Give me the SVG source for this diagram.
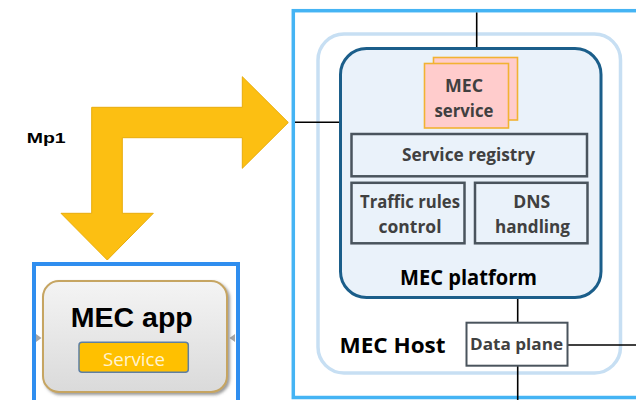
<svg xmlns="http://www.w3.org/2000/svg" width="636" height="400" viewBox="0 0 636 400">
  <defs>
    <linearGradient id="appFill" x1="0" y1="0" x2="0" y2="1">
      <stop offset="0" stop-color="#F4F4F4"/>
      <stop offset="1" stop-color="#DADADA"/>
    </linearGradient>
    <filter id="softShadow" x="-10%" y="-10%" width="125%" height="130%">
      <feDropShadow dx="2" dy="2" stdDeviation="1.5" flood-color="#555" flood-opacity="0.6"/>
    </filter>
  </defs>
  <style>
    .cal { font-family: "Open Sans", "Noto Sans", "DejaVu Sans", sans-serif; font-weight: bold; fill: #404040; text-anchor: middle; }
    .box { fill: none; stroke: #4A545D; stroke-width: 2.5; }
    .wire { stroke: #000; stroke-width: 1.6; fill: none; }
    .svc { fill: #FFCCCC; stroke: #F2B232; stroke-width: 1.6; }
  </style>

  <!-- MEC host frame -->
  <g id="mec-host">
    <rect x="293.3" y="10.7" width="380" height="386.8" fill="#FFFFFF" stroke="#45B4F4" stroke-width="3.5"/>
    <rect x="318" y="34" width="302.5" height="339" rx="26" fill="#FFFFFF" stroke="#C7DFF3" stroke-width="3.5"/>
    <text class="cal" x="339.5" y="352.5" style="text-anchor:start;fill:#000" font-size="22" textLength="106" lengthAdjust="spacingAndGlyphs">MEC Host</text>
  </g>

  <!-- connectors -->
  <g id="connectors">
    <line class="wire" x1="476.7" y1="12.5" x2="476.7" y2="47"/>
    <line class="wire" x1="295" y1="122.3" x2="339" y2="122.3"/>
    <line class="wire" x1="517.7" y1="298.5" x2="517.7" y2="322"/>
    <line class="wire" x1="567.5" y1="345" x2="636" y2="345"/>
    <line class="wire" x1="517.7" y1="366" x2="517.7" y2="400" stroke-width="2.5"/>
    <line x1="135" y1="392" x2="135" y2="400" stroke="#6E6E6E" stroke-width="1.6"/>
  </g>

  <!-- MEC platform -->
  <g id="mec-platform">
    <rect x="340.5" y="48.5" width="260.5" height="249" rx="26" fill="#EAF2FA" stroke="#1B5E8A" stroke-width="3"/>
    <text class="cal" x="468.5" y="285" font-size="22" style="fill:#000" textLength="137" lengthAdjust="spacingAndGlyphs">MEC platform</text>
  </g>

  <g id="mec-service">
    <rect class="svc" x="433.5" y="57.5" width="84" height="62.5"/>
    <rect class="svc" x="424.5" y="63.5" width="84" height="64.5"/>
    <text class="cal" x="464" y="92" font-size="18" textLength="38" lengthAdjust="spacingAndGlyphs">MEC</text>
    <text class="cal" x="464" y="117" font-size="18" textLength="59" lengthAdjust="spacingAndGlyphs">service</text>
  </g>

  <g id="service-registry">
    <rect class="box" x="351.5" y="134" width="235.5" height="42.3"/>
    <text class="cal" x="468.5" y="161" font-size="17" textLength="133" lengthAdjust="spacingAndGlyphs">Service registry</text>
  </g>

  <g id="traffic-rules">
    <rect class="box" x="351.5" y="182.8" width="113" height="60.5"/>
    <text class="cal" x="410" y="208.3" font-size="17" textLength="100" lengthAdjust="spacingAndGlyphs">Traffic rules</text>
    <text class="cal" x="410" y="232.7" font-size="17" textLength="63" lengthAdjust="spacingAndGlyphs">control</text>
  </g>

  <g id="dns-handling">
    <rect class="box" x="475" y="182.8" width="112.5" height="60.5"/>
    <text class="cal" x="531.7" y="208.3" font-size="17" textLength="37" lengthAdjust="spacingAndGlyphs">DNS</text>
    <text class="cal" x="532.5" y="232.7" font-size="17" textLength="75" lengthAdjust="spacingAndGlyphs">handling</text>
  </g>

  <g id="data-plane">
    <rect x="466.5" y="322.7" width="101" height="43" fill="#FFFFFF" stroke="#4A545D" stroke-width="2"/>
    <text class="cal" x="516.5" y="350" font-size="15.5" textLength="93" lengthAdjust="spacingAndGlyphs">Data plane</text>
  </g>

  <!-- Mp1 reference point arrow -->
  <g id="mp1">
    <polygon points="107.3,260 153.3,213.3 122.3,213.3 122.3,137.7 242.3,137.7 242.3,168.3 288.3,122.5 242.3,76.7 242.3,107.3 91.7,107.3 91.7,213.3 61,213.3" fill="#FCBF12" stroke="#E8AC0A" stroke-width="1"/>
    <text x="26.7" y="142.7" font-family="'Liberation Sans', Arial, sans-serif" font-weight="bold" font-size="15" fill="#000" textLength="39" lengthAdjust="spacingAndGlyphs">Mp1</text>
  </g>

  <!-- MEC application -->
  <g id="mec-app">
    <rect x="34" y="264" width="204" height="160" fill="#FFFFFF" stroke="#2F8EEF" stroke-width="4"/>
    <polygon points="36,334 41.5,338 36,342" fill="#A6A6A6"/>
    <polygon points="235,334 229.5,338 235,342" fill="#A6A6A6"/>
    <rect x="43" y="281" width="184" height="111" rx="16" fill="url(#appFill)" stroke="#C6A562" stroke-width="2" filter="url(#softShadow)"/>
    <text x="131.8" y="327.3" font-family="'Liberation Sans', Arial, sans-serif" font-weight="bold" font-size="28" fill="#000" text-anchor="middle" textLength="122" lengthAdjust="spacingAndGlyphs">MEC app</text>
    <rect x="79" y="342.3" width="109.3" height="30" rx="3" fill="#FFC000" stroke="#5E7FA2" stroke-width="1.5"/>
    <text x="134" y="365.5" font-family="'Open Sans', 'Liberation Sans', sans-serif" font-size="18" fill="#FFF3D0" text-anchor="middle" textLength="62" lengthAdjust="spacingAndGlyphs">Service</text>
  </g>
</svg>
